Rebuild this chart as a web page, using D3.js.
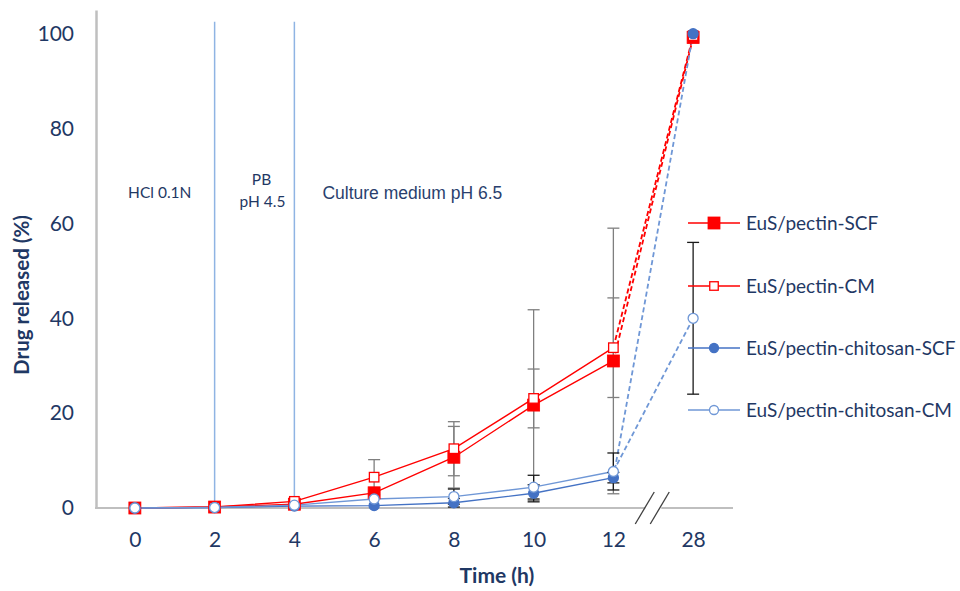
<!DOCTYPE html>
<html>
<head>
<meta charset="utf-8">
<script src="https://cdn.jsdelivr.net/npm/d3@7/dist/d3.min.js"></script>
<style>
  html, body { margin: 0; padding: 0; background: #fff; }
  svg { display: block; }
</style>
</head>
<body>
<svg id="chart" width="960" height="591"></svg>
<script>
// Sampling times (h); the last point sits after an axis break
const times = ["0", "2", "4", "6", "8", "10", "12", "28"];

// Cumulative drug release (%) per formulation
const pectinSCF = [0, 0.2, 0.8, 3.2, 10.7, 21.7, 31.0, 99.2];
const pectinCM = [0, 0.2, 1.4, 6.5, 12.5, 23.1, 33.8, 99.6];
const chitosanSCF = [0, 0.1, 0.4, 0.5, 1.1, 3.1, 6.4, 100];
const chitosanCM = [0, 0.1, 0.6, 1.9, 2.4, 4.4, 7.7, 40.0];

// Standard deviations (%)
const pectinSCFsd = [0, 0, 0, 0, 6.5, 20.1, 28.0, 0];
const pectinCMsd = [0, 0, 0, 3.7, 5.7, 6.2, 10.5, 0];
const chitosanSCFsd = [0, 0, 0, 0, 0.9, 1.8, 1.1, 0];
const chitosanCMsd = [0, 0, 0, 0, 1.6, 2.5, 3.9, 16.0];

const seriesNames = ["EuS/pectin-SCF", "EuS/pectin-CM", "EuS/pectin-chitosan-SCF", "EuS/pectin-chitosan-CM"];
const yTicks = [0, 20, 40, 60, 80, 100];

// Medium changes: boundaries after 2 h and 4 h
const phaseBounds = ["2", "4"];

const svg = d3.select("#chart");
const navy = "#1f3864";
const red = "#ff0000";
const blue = "#4472c4";
const lightBlue = "#6f97d6";
const font = "Lato, 'Open Sans', sans-serif";

const x = d3.scalePoint().domain(times).range([95, 733]).padding(0.5);
const y = d3.scaleLinear().domain([0, 105]).range([508, 10]);

const series = [
  { name: seriesNames[0], values: pectinSCF, sd: pectinSCFsd, color: red, dash: red, marker: "square", filled: true, size: 12, errColor: "#7f7f7f" },
  { name: seriesNames[1], values: pectinCM, sd: pectinCMsd, color: red, dash: red, marker: "square", filled: false, size: 9.5, errColor: "#7f7f7f" },
  { name: seriesNames[2], values: chitosanSCF, sd: chitosanSCFsd, color: blue, dash: lightBlue, marker: "circle", filled: true, size: 10, errColor: "#1a1a1a" },
  { name: seriesNames[3], values: chitosanCM, sd: chitosanCMsd, color: lightBlue, dash: lightBlue, marker: "circle", filled: false, size: 10, errColor: "#1a1a1a" }
];

// Axes lines (category axis drawn as a plain baseline)
svg.append("line")
  .attr("x1", x.range()[0]).attr("x2", x.range()[1])
  .attr("y1", y(0)).attr("y2", y(0))
  .attr("stroke", "#bfbfbf").attr("stroke-width", 2);

const yAxis = d3.axisLeft(y).tickValues(yTicks).tickSize(0).tickPadding(22);
const gy = svg.append("g").attr("transform", `translate(${x.range()[0] + 1},0)`).call(yAxis);
gy.select(".domain").attr("stroke", "#bfbfbf").attr("stroke-width", 2.5);
gy.selectAll("text")
  .attr("fill", navy)
  .style("font-family", font)
  .style("font-size", "21px");

const xAxis = d3.axisBottom(x).tickSize(0).tickPadding(24);
const gx = svg.append("g").attr("transform", `translate(0,${y(0)})`).call(xAxis);
gx.select(".domain").remove();
gx.selectAll("text")
  .attr("fill", navy)
  .style("font-family", font)
  .style("font-size", "21px");

// Axis break marks between 12 and 28
const breakX = (x("12") + x("28")) / 2;
svg.append("rect")
  .attr("x", breakX - 8).attr("y", y(0) - 3)
  .attr("width", 16).attr("height", 6)
  .attr("fill", "#fff");
[-8, 7].forEach(dx => {
  svg.append("line")
    .attr("x1", breakX + dx - 10).attr("y1", y(0) + 16)
    .attr("x2", breakX + dx + 9).attr("y2", y(0) - 16)
    .attr("stroke", "#404040").attr("stroke-width", 1.3);
});

// Medium-change markers
phaseBounds.forEach(t => {
  svg.append("line")
    .attr("x1", x(t)).attr("x2", x(t))
    .attr("y1", y(102.5)).attr("y2", y(0))
    .attr("stroke", "#8fb4e3").attr("stroke-width", 1.5);
});

svg.append("text").attr("x", (x("0") + x("2")) / 2 - 15).attr("y", 198)
  .attr("text-anchor", "middle").attr("fill", navy)
  .style("font-family", font).style("font-size", "15.5px")
  .text("HCl 0.1N");
svg.append("text").attr("x", (x("2") + x("4")) / 2 + 7).attr("y", 185)
  .attr("text-anchor", "middle").attr("fill", navy)
  .style("font-family", font).style("font-size", "15.5px")
  .text("PB");
svg.append("text").attr("x", (x("2") + x("4")) / 2 + 8).attr("y", 207)
  .attr("text-anchor", "middle").attr("fill", navy)
  .style("font-family", font).style("font-size", "15.5px")
  .text("pH 4.5");
svg.append("text").attr("x", x("4") + 28).attr("y", 199)
  .attr("fill", "#2a3f6e")
  .style("font-family", "'Liberation Sans', Arial, sans-serif").style("font-size", "17.5px")
  .text("Culture medium pH 6.5");

// Series lines: solid up to 12 h, dashed across the break
const line = d3.line().x(d => x(d.t)).y(d => y(d.v));
const lastSolid = times.indexOf("12");
series.forEach(s => {
  const pts = times.map((t, i) => ({ t, v: s.values[i] }));
  svg.append("path").attr("d", line(pts.slice(0, lastSolid + 1)))
    .attr("fill", "none").attr("stroke", s.color).attr("stroke-width", 1.4);
  svg.append("path").attr("d", line(pts.slice(lastSolid)))
    .attr("fill", "none").attr("stroke", s.dash).attr("stroke-width", 1.8)
    .attr("stroke-dasharray", "5,3");
});

// Error bars
const cap = 6;
series.forEach(s => {
  times.forEach((t, i) => {
    const sd = s.sd[i];
    if (!sd) return;
    const cx = x(t), lo = y(Math.max(0, s.values[i] - sd)), hi = y(s.values[i] + sd);
    const g = svg.append("g").attr("stroke", s.errColor).attr("stroke-width", 1.3);
    g.append("line").attr("x1", cx).attr("x2", cx).attr("y1", lo).attr("y2", hi);
    g.append("line").attr("x1", cx - cap).attr("x2", cx + cap).attr("y1", lo).attr("y2", lo);
    g.append("line").attr("x1", cx - cap).attr("x2", cx + cap).attr("y1", hi).attr("y2", hi);
  });
});

// Markers
function drawMarker(g, s, cx, cy, size) {
  if (s.marker === "square") {
    g.append("rect")
      .attr("x", cx - size / 2).attr("y", cy - size / 2)
      .attr("width", size).attr("height", size)
      .attr("fill", s.filled ? s.color : "#fff")
      .attr("stroke", s.color).attr("stroke-width", s.filled ? 0.8 : 1.3);
  } else {
    g.append("circle")
      .attr("cx", cx).attr("cy", cy).attr("r", size / 2)
      .attr("fill", s.filled ? s.color : "#fff")
      .attr("stroke", s.color).attr("stroke-width", 1.3);
  }
}
series.forEach(s => {
  const g = svg.append("g");
  times.forEach((t, i) => drawMarker(g, s, x(t), y(s.values[i]), s.size));
});

// Legend
const legendY = [223, 286, 348, 410];
series.forEach((s, i) => {
  const g = svg.append("g");
  g.append("line").attr("x1", 688).attr("x2", 740)
    .attr("y1", legendY[i]).attr("y2", legendY[i])
    .attr("stroke", s.color).attr("stroke-width", 1.4);
  drawMarker(g, s, 714, legendY[i], s.marker === "square" ? (s.filled ? 12 : 8.5) : 9);
  g.append("text").attr("x", 746).attr("y", legendY[i]).attr("dy", "0.35em")
    .attr("fill", navy)
    .style("font-family", font).style("font-size", "19px")
    .text(s.name);
});

// Axis titles
svg.append("text").attr("x", 497).attr("y", 583)
  .attr("text-anchor", "middle").attr("fill", navy)
  .style("font-family", font).style("font-size", "21px").style("font-weight", "bold")
  .text("Time (h)");
svg.append("text")
  .attr("transform", "translate(29,295) rotate(-90)")
  .attr("text-anchor", "middle").attr("fill", navy)
  .style("font-family", font).style("font-size", "20.5px").style("font-weight", "bold")
  .text("Drug released (%)");
</script>
</body>
</html>
